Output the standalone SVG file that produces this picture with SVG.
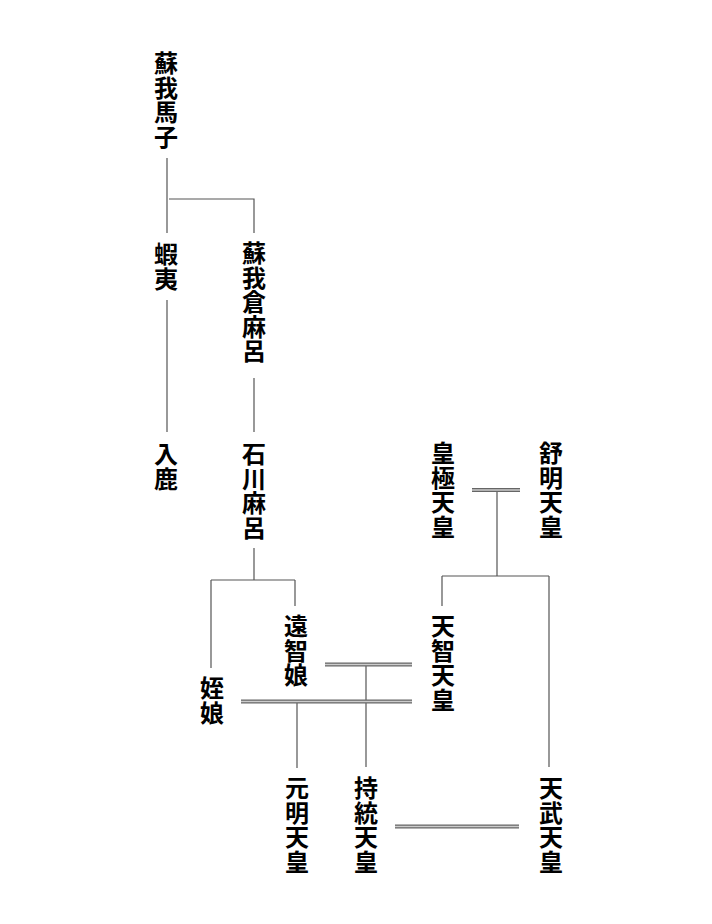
<svg xmlns="http://www.w3.org/2000/svg" width="712" height="924" viewBox="0 0 712 924">
<style>
.n{font-family:"Noto Sans CJK JP","Noto Sans CJK SC",sans-serif;font-weight:bold;font-size:24px;fill:#000;writing-mode:vertical-rl;letter-spacing:0.5px}
.l{stroke:#555;stroke-width:1.2;fill:none}
.d1{stroke:#666;stroke-width:4;fill:none}
.d2{stroke:#ccc;stroke-width:1.4;fill:none}
</style>
<rect width="712" height="924" fill="#fff"/>
<g id="connectors">
<path class="l" d="M167 158V233M169 199H254V233M167 300V432M254 378V432M254 548V580M211 580H295M211 580V668M295 580V606M497 491V576M442 576H549M442 576V606M549 576V767M366 666V767M297 703V768"/>
<path class="d1" d="M472 490H520M325 664.5H412M241 701.5H412M395 826.5H519"/>
<path class="d2" d="M472 490H520M325 664.5H412M241 701.5H412M395 826.5H519"/>
</g>
<g id="umako"><text class="n" x="166" y="51">蘇我馬子</text></g>
<g id="emishi"><text class="n" x="166" y="242">蝦夷</text></g>
<g id="kuramaro"><text class="n" x="254" y="241">蘇我倉麻呂</text></g>
<g id="iruka"><text class="n" x="166" y="442">入鹿</text></g>
<g id="ishikawamaro"><text class="n" x="254" y="442">石川麻呂</text></g>
<g id="kogyoku"><text class="n" x="443" y="441">皇極天皇</text></g>
<g id="jomei"><text class="n" x="551" y="441">舒明天皇</text></g>
<g id="ochinoiratsume"><text class="n" x="296" y="614">遠智娘</text></g>
<g id="mei"><text class="n" x="212" y="676">姪娘</text></g>
<g id="tenji"><text class="n" x="443" y="614">天智天皇</text></g>
<g id="genmei"><text class="n" x="297" y="776">元明天皇</text></g>
<g id="jito"><text class="n" x="366" y="776">持統天皇</text></g>
<g id="tenmu"><text class="n" x="551" y="776">天武天皇</text></g>
</svg>
